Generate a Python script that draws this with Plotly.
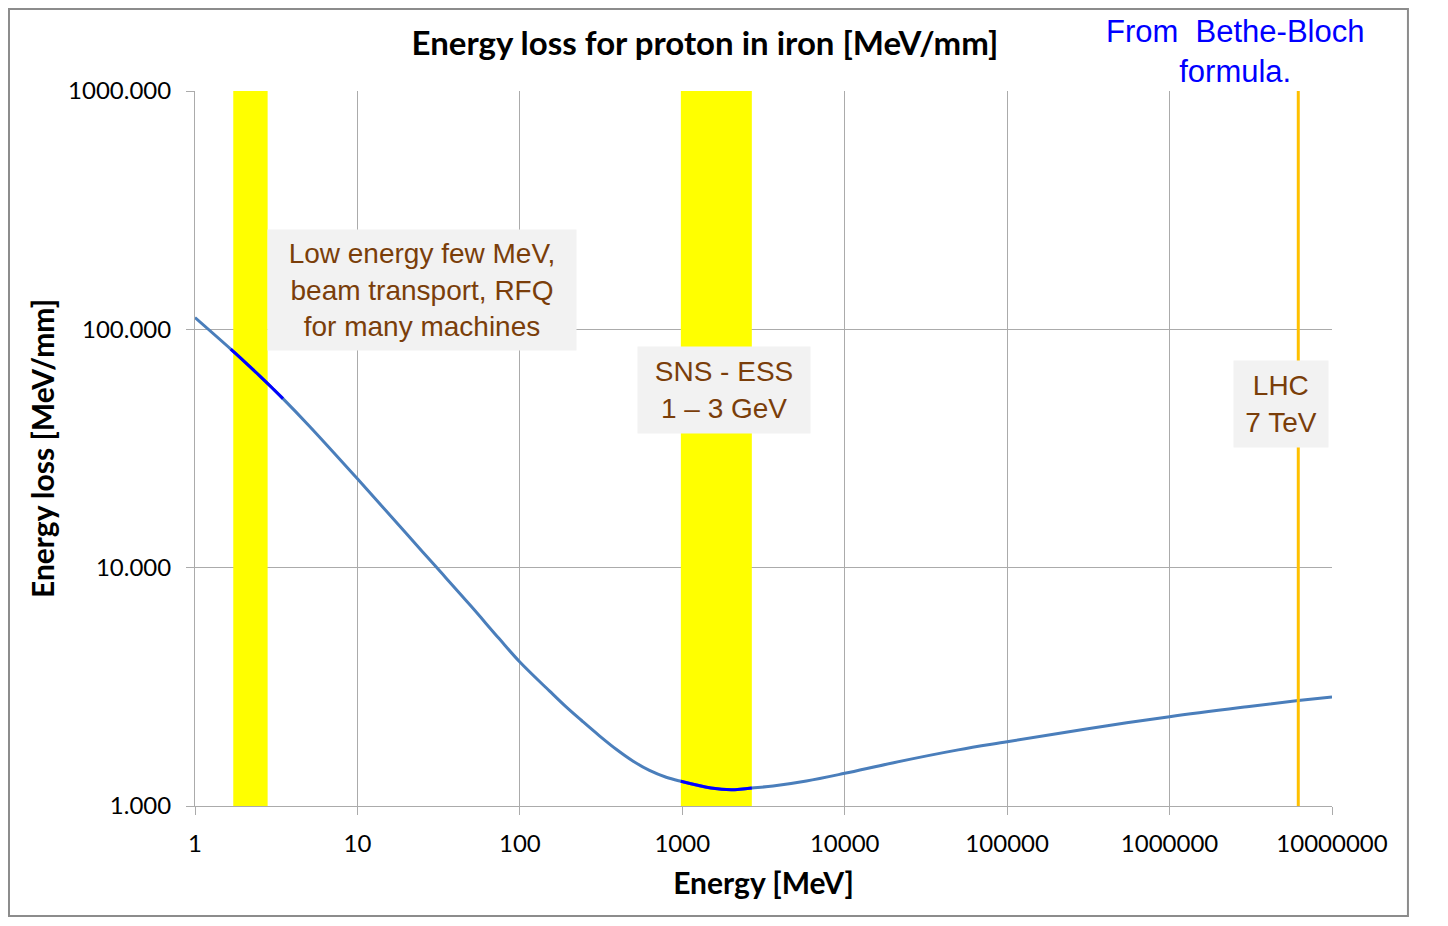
import plotly.graph_objects as go

# energy loss curve (Energy in MeV, loss in MeV/mm)
energy = [1, 1.66, 2, 2.5, 3, 3.48, 5, 10, 20, 30, 50, 74.5, 100, 152, 192, 244, 309,
          392, 496, 628, 796, 980, 1500, 2000, 2680, 3620, 5810, 10000, 20000, 50000,
          100000, 300000, 1000000, 3000000, 6200000, 10000000]
loss = [112, 82.6, 73.6, 63.8, 56.6, 51.2, 39.6, 23.6, 13.9, 10.2, 6.9, 5.04, 4.02, 3.04,
        2.61, 2.26, 1.97, 1.73, 1.545, 1.41, 1.32, 1.27, 1.19, 1.17, 1.19, 1.213, 1.273,
        1.371, 1.52, 1.72, 1.86, 2.10, 2.37, 2.61, 2.77, 2.87]

# highlighted parts of the curve
low_energy = [1.66, 2, 2.5, 3, 3.48]
low_loss = [82.6, 73.6, 63.8, 56.6, 51.2]
sns_energy = [980, 1500, 2000, 2680]
sns_loss = [1.27, 1.19, 1.17, 1.19]

# shaded energy bands and the LHC energy
bands = [(1.72, 2.80), (980, 2680)]
lhc_energy = 6.2e6

x_ticks = [1, 10, 100, 1000, 10000, 100000, 1000000, 10000000]
x_labels = ["1", "10", "100", "1000", "10000", "100000", "1000000", "10000000"]
y_ticks = [1, 10, 100, 1000]
y_labels = ["1.000", "10.000", "100.000", "1000.000"]

y_min, y_max = 1, 1000
grid = "#ABABAB"
brown = "#7A3E0A"

fig = go.Figure()
for b0, b1 in bands:
    fig.add_trace(go.Scatter(x=[b0, b1, b1, b0, b0], y=[y_min, y_min, y_max, y_max, y_min],
                             mode="lines", fill="toself", fillcolor="#FFFF00",
                             line=dict(width=0), hoverinfo="skip"))
fig.add_trace(go.Scatter(x=energy, y=loss, mode="lines", line_shape="spline",
                         line=dict(color="#4A7EBB", width=3)))
fig.add_trace(go.Scatter(x=low_energy, y=low_loss, mode="lines", line_shape="spline",
                         line=dict(color="#0000FF", width=3)))
fig.add_trace(go.Scatter(x=sns_energy, y=sns_loss, mode="lines", line_shape="spline",
                         line=dict(color="#0000FF", width=3)))
fig.add_trace(go.Scatter(x=[lhc_energy, lhc_energy], y=[y_min, y_max], mode="lines",
                         line=dict(color="#FFC000", width=3), hoverinfo="skip"))

# outer chart frame
shapes = [dict(type="rect", xref="paper", yref="paper", x0=-0.1636, x1=1.0668,
               y0=-0.1538, y1=1.1147, line=dict(color="#8C8C8C", width=2), layer="below")]

box_font = dict(family="Liberation Sans, Arial", size=28, color=brown)
annotations = [
    dict(x=1.398, y=2.165, xref="x", yref="y", showarrow=False,
         text="Low energy few MeV,<br>beam transport, RFQ<br>for many machines",
         font=box_font, bgcolor="#F2F2F2", width=300, height=112, borderpad=4),
    dict(x=3.257, y=1.745, xref="x", yref="y", showarrow=False,
         text="SNS - ESS<br>1 – 3 GeV",
         font=box_font, bgcolor="#F2F2F2", width=164, height=78, borderpad=4),
    dict(x=6.687, y=1.687, xref="x", yref="y", showarrow=False,
         text="LHC<br>7 TeV",
         font=box_font, bgcolor="#F2F2F2", width=86, height=78, borderpad=4),
    dict(x=0.9147, y=1.0552, xref="paper", yref="paper", showarrow=False,
         xanchor="center", yanchor="middle",
         text="From  Bethe-Bloch<br>formula.",
         font=dict(family="Liberation Sans, Arial", size=31, color="#0000FF")),
]

fig.update_layout(
    width=1432, height=910,
    margin=dict(l=187, r=108, t=83, b=112),
    paper_bgcolor="white", plot_bgcolor="white",
    showlegend=False,
    title=dict(text="<b>Energy loss for proton in iron [MeV/mm]</b>",
               x=0.4485, xref="paper", y=1 - 35 / 910, yanchor="middle", xanchor="center",
               font=dict(family="Lato", size=33, color="black")),
    shapes=shapes,
    annotations=annotations,
    font=dict(family="Lato", color="black"),
)

fig.update_xaxes(type="log", range=[0, 7], tickvals=x_ticks, ticktext=x_labels,
                 showgrid=True, gridcolor=grid, gridwidth=1,
                 showline=True, linecolor=grid, linewidth=1,
                 ticks="outside", ticklen=8, tickcolor=grid, ticklabelstandoff=8,
                 tickfont=dict(family="Lato", size=24, color="black"),
                 title=dict(text="<b>Energy [MeV]</b>", standoff=17,
                            font=dict(family="Lato", size=30, color="black")),
                 zeroline=False)
fig.update_yaxes(type="log", range=[0, 3], tickvals=y_ticks, ticktext=y_labels,
                 showgrid=True, gridcolor=grid, gridwidth=1,
                 showline=True, linecolor=grid, linewidth=1,
                 ticks="outside", ticklen=8, tickcolor=grid, ticklabelstandoff=10,
                 tickfont=dict(family="Lato", size=24, color="black"),
                 title=dict(text="<b>Energy loss [MeV/mm]</b>", standoff=4,
                            font=dict(family="Lato", size=30, color="black")),
                 zeroline=False)

fig.write_html("out.html")
